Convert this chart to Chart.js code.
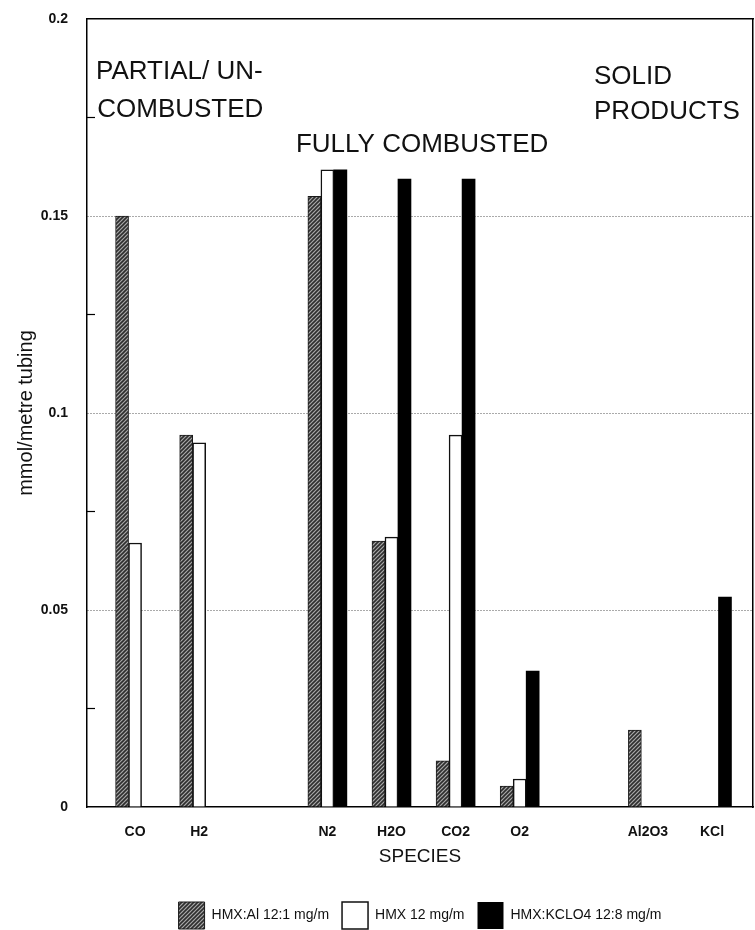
<!DOCTYPE html>
<html>
<head>
<meta charset="utf-8">
<script src="https://cdn.jsdelivr.net/npm/chart.js@4.4.0/dist/chart.umd.min.js"></script>
<style>
  html, body { margin: 0; padding: 0; background: #fff; }
</style>
</head>
<body>
<canvas id="c" width="755" height="930"></canvas>
<script>
// species on the x axis, blank entries are the gaps between the groups
const categories = ['CO', 'H2', '', 'N2', 'H2O', 'CO2', 'O2', '', 'Al2O3', 'KCl'];
const seriesNames = ['HMX:Al 12:1 mg/m', 'HMX 12 mg/m', 'HMX:KCLO4 12:8 mg/m'];
const hmxAl   = [0.150, 0.0944, null, 0.155,  0.0675, 0.0117, 0.0053, null, 0.0195, null];
const hmxOnly = [0.067, 0.0924, null, 0.1617, 0.0685, 0.0944, 0.0071, null, null,   null];
const hmxKclo = [null,  null,   null, 0.1617, 0.1594, 0.1594, 0.0345, null, null,   0.0533];
const yTicks = [0, 0.05, 0.1, 0.15, 0.2];

// group headings written inside the plot (position in axis units)
const headings = [
  { text: 'PARTIAL/ UN-',    x: -0.61, y: 0.1848 },
  { text: 'COMBUSTED',       x: -0.59, y: 0.1751 },
  { text: 'FULLY COMBUSTED', x: 2.51,  y: 0.1662 },
  { text: 'SOLID',           x: 7.16,  y: 0.1835 },
  { text: 'PRODUCTS',        x: 7.16,  y: 0.1746 }
];

const FONT = '"Liberation Sans", Arial, sans-serif';
Chart.defaults.font.family = FONT;
Chart.defaults.color = '#111';

const canvas = document.getElementById('c');
const ctx = canvas.getContext('2d');

// diagonal hatch used for the HMX:Al bars
function makeHatch() {
  const t = document.createElement('canvas');
  t.width = 4; t.height = 4;
  const g = t.getContext('2d');
  g.fillStyle = '#a8a8a8';
  g.fillRect(0, 0, 4, 4);
  g.strokeStyle = '#2e2e2e';
  g.lineWidth = 1.6;
  g.beginPath();
  g.moveTo(-1, 5); g.lineTo(5, -1);
  g.moveTo(-1, 1); g.lineTo(1, -1);
  g.moveTo(3, 5); g.lineTo(5, 3);
  g.stroke();
  return ctx.createPattern(t, 'repeat');
}

const pts = arr => arr.map((v, i) => ({ x: i, y: v }));
const isMajor = v => Math.round(v / 0.025) % 2 === 0;
const isEdge = v => v < 0.001 || v > 0.199;

const groupTitles = {
  id: 'groupTitles',
  afterDatasetsDraw(chart) {
    const { x, y } = chart.scales;
    const c = chart.ctx;
    c.save();
    c.fillStyle = '#111';
    c.font = '26px ' + FONT;
    c.textAlign = 'left';
    c.textBaseline = 'alphabetic';
    headings.forEach(h => c.fillText(h.text, x.getPixelForValue(h.x), y.getPixelForValue(h.y)));
    c.restore();
  }
};

new Chart(ctx, {
  type: 'bar',
  data: {
    datasets: [
      { label: seriesNames[0], data: pts(hmxAl), backgroundColor: makeHatch(), borderColor: '#1a1a1a', borderWidth: 1 },
      { label: seriesNames[1], data: pts(hmxOnly), backgroundColor: '#ffffff', borderColor: '#111', borderWidth: 1.5 },
      { label: seriesNames[2], data: pts(hmxKclo), backgroundColor: '#000000', borderColor: '#000', borderWidth: 0 }
    ]
  },
  options: {
    responsive: false,
    animation: false,
    datasets: { bar: { barThickness: 13 } },
    layout: { padding: { left: 0, right: 2, top: 19, bottom: -9 } },
    plugins: {
      legend: {
        position: 'bottom',
        fullSize: false,
        labels: { boxWidth: 26, boxHeight: 27, padding: 13, color: '#111', font: { size: 14 } }
      },
      tooltip: { enabled: false }
    },
    scales: {
      x: {
        type: 'linear',
        offset: false,
        min: -0.75,
        max: 9.64,
        afterBuildTicks: ax => { ax.ticks = categories.map((c, i) => ({ value: i })); },
        afterFit: ax => { ax.height = 82; ax.paddingLeft = 0; ax.paddingRight = 0; },
        grid: { display: false, drawTicks: false, offset: false },
        border: { color: '#000', width: 1.5 },
        ticks: {
          autoSkip: false, maxRotation: 0, padding: 17,
          color: '#111', font: { size: 14, weight: 'bold' },
          callback: v => categories[v] ?? ''
        },
        title: { display: true, text: 'SPECIES', color: '#111', font: { size: 19 }, padding: { top: 0, bottom: 21 } }
      },
      x2: {
        type: 'linear', position: 'top', min: 0, max: 1,
        ticks: { display: false },
        grid: { display: false, drawTicks: false },
        border: { color: '#000', width: 1.5 },
        afterFit: ax => { ax.height = 0; ax.paddingLeft = 0; ax.paddingRight = 0; }
      },
      y: {
        min: 0,
        max: 0.2,
        afterFit: ax => { ax.width = 87; ax.paddingTop = 8; ax.paddingBottom = 8; },
        ticks: {
          stepSize: 0.025, padding: 27,
          color: '#111', font: { size: 14, weight: 'bold' },
          callback: v => {
            const r = Math.round(v * 1000) / 1000;
            return yTicks.includes(r) ? String(r) : '';
          }
        },
        grid: {
          color: c => (isMajor(c.tick.value) && !isEdge(c.tick.value)) ? '#555' : 'rgba(0,0,0,0)',
          tickColor: c => isMajor(c.tick.value) ? 'rgba(0,0,0,0)' : '#000',
          tickLength: -8,
          tickWidth: 1.2,
          tickBorderDash: [],
          lineWidth: 1
        },
        border: { color: '#000', width: 1.5, dash: [1, 2] },
        title: { display: true, text: 'mmol/metre tubing', color: '#111', font: { size: 20 }, padding: { top: 14, bottom: 0 } }
      },
      y2: {
        type: 'linear', position: 'right', min: 0, max: 1,
        ticks: { display: false },
        grid: { display: false, drawTicks: false },
        border: { color: '#000', width: 1.5 },
        afterFit: ax => { ax.width = 0; ax.paddingTop = 0; ax.paddingBottom = 0; }
      }
    }
  },
  plugins: [groupTitles]
});
</script>
</body>
</html>
